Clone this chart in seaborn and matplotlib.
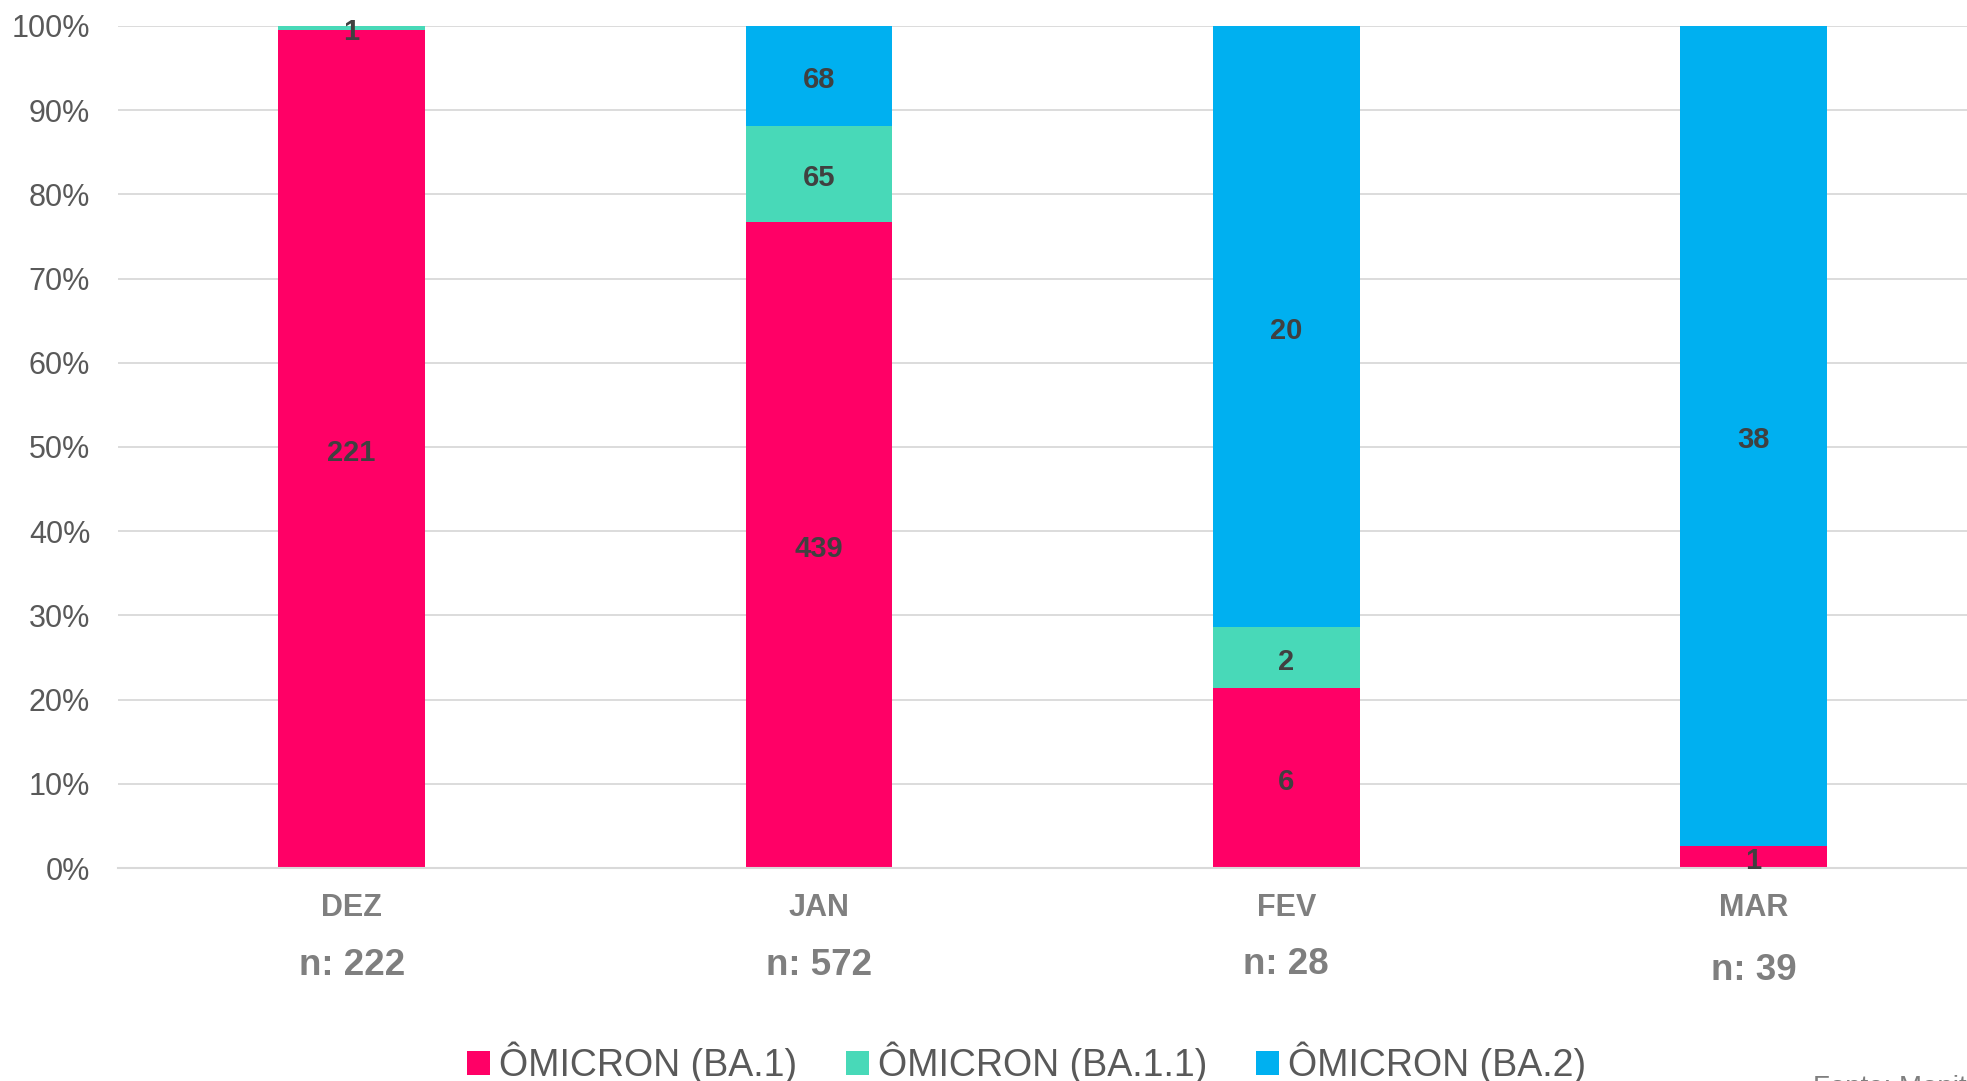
import numpy as np
import pandas as pd
import matplotlib.pyplot as plt
import seaborn as sns
from matplotlib.ticker import PercentFormatter, MultipleLocator

# dados (contagens por mes e variante)
meses = ["DEZ", "JAN", "FEV", "MAR"]
variantes = ["ÔMICRON (BA.1)", "ÔMICRON (BA.1.1)", "ÔMICRON (BA.2)"]
ba1 = [221, 439, 6, 1]
ba11 = [1, 65, 2, 0]
ba2 = [0, 68, 20, 38]
n_labels = ["n: 222", "n: 572", "n: 28", "n: 39"]

colors = {
    "ÔMICRON (BA.1)": "#FF0066",
    "ÔMICRON (BA.1.1)": "#48D9B8",
    "ÔMICRON (BA.2)": "#00B0F0",
}

df = pd.DataFrame({"mes": meses, variantes[0]: ba1, variantes[1]: ba11, variantes[2]: ba2})
totals = df[variantes].sum(axis=1)
pct = df[variantes].div(totals, axis=0)

sns.set_theme(style="white")
plt.rcParams["font.family"] = ["Liberation Sans", "DejaVu Sans"]

fig = plt.figure(figsize=(19.67, 10.81), dpi=100)
ax = fig.add_axes([0.06, 0.197, 0.94, 0.779])

bottom = np.zeros(len(meses))
for var in variantes:
    sns.barplot(x=df["mes"], y=pct[var].values, color=colors[var], width=0.314,
                bottom=bottom, label=var, ax=ax, saturation=1, linewidth=0)
    bottom = bottom + pct[var].values

# numeros dentro das barras
for cont, var in zip(ax.containers, variantes):
    labs = [str(v) if v > 0 else "" for v in df[var]]
    txts = ax.bar_label(cont, labels=labs, label_type="center", fontsize=21,
                        fontweight="bold", color="#404040")
    for t in txts:
        t.xyann = (0, -3)

ax.set_ylim(0, 1)
ax.set_xlim(-0.5, 3.457)
ax.yaxis.set_major_locator(MultipleLocator(0.1))
ax.yaxis.set_major_formatter(PercentFormatter(1.0, decimals=0))
ax.yaxis.grid(True, color="#D9D9D9", linewidth=1.3)
ax.set_axisbelow(True)
ax.tick_params(axis="y", length=0, pad=20, labelsize=22, labelcolor="#595959")
ax.tick_params(axis="x", length=0, pad=18, labelsize=22, labelcolor="#7F7F7F")
for lab in ax.get_xticklabels():
    lab.set_fontweight("bold")
ax.set_xlabel("")
ax.set_ylabel("")
for s in ["top", "right", "left"]:
    ax.spines[s].set_visible(False)
ax.spines["bottom"].set_color("#D9D9D9")
ax.spines["bottom"].set_linewidth(1.5)

# n por mes
n_y = [-0.116, -0.116, -0.114, -0.122]
for i, (txt, yy) in enumerate(zip(n_labels, n_y)):
    ax.text(i, yy, txt, transform=ax.get_xaxis_transform(), ha="center", va="center",
            fontsize=26.5, fontweight="bold", color="#7F7F7F")

handles, labels = ax.get_legend_handles_labels()
if ax.get_legend() is not None:
    ax.get_legend().remove()
fig.legend(handles, labels, loc="center", bbox_to_anchor=(0.522, 0.0165), ncol=3,
           frameon=False, fontsize=27, labelcolor="#595959", handlelength=0.6,
           handleheight=0.6, handletextpad=0.25, columnspacing=1.3)

fig.text(1813 / 1967, 1 - 1075 / 1081, "Fonte: Monitoramento", ha="left", va="top",
         fontsize=20, color="#7F7F7F")

fig.savefig("out.png", dpi=100)
